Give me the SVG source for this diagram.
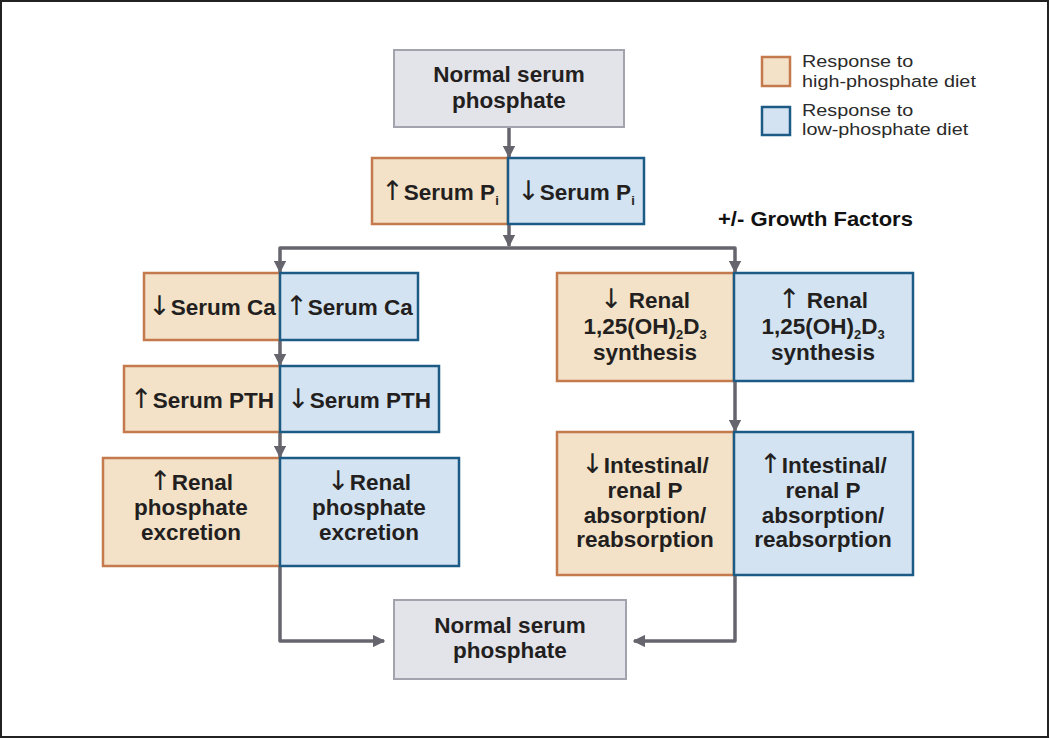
<svg xmlns="http://www.w3.org/2000/svg" width="1050" height="739" viewBox="0 0 1050 739">
<style>
.hi{fill:#f3e2c8;stroke:#c47a4c;stroke-width:2.5}
.lo{fill:#d4e3f2;stroke:#1c5b85;stroke-width:2.5}
.nm{fill:#e3e3ea;stroke:#a3a3ae;stroke-width:2}
.t{font-family:"Liberation Sans",Arial,sans-serif;font-weight:bold;font-size:22.5px;fill:#231f20;text-anchor:middle}
.ar{font-family:"DejaVu Sans","Liberation Sans",sans-serif;font-weight:normal;font-size:27px}
.sub{font-size:13px}
.leg{font-family:"Liberation Sans",Arial,sans-serif;font-size:16.5px;fill:#2a2a2a}
.gf{font-family:"Liberation Sans",Arial,sans-serif;font-size:20px;font-weight:bold;fill:#111}
.cn{fill:none;stroke:#66656e;stroke-width:3.5;stroke-linejoin:round}
</style>
<defs>
<marker id="ah" viewBox="0 0 10 10" refX="9" refY="5" markerWidth="3.6" markerHeight="3.6" orient="auto" markerUnits="strokeWidth">
<path d="M0,0 L10,5 L0,10 z" fill="#66656e"/>
</marker>
</defs>
<rect x="1" y="1" width="1047" height="736" fill="#fff" stroke="#222" stroke-width="2"/>

<g id="connectors">
<path class="cn" d="M509,127 V157" marker-end="url(#ah)"/>
<path class="cn" d="M509,224 V246" marker-end="url(#ah)"/>
<path class="cn" d="M509,248 H280 V272" marker-end="url(#ah)"/>
<path class="cn" d="M509,248 H735 V272" marker-end="url(#ah)"/>
<path class="cn" d="M280,340 V365" marker-end="url(#ah)"/>
<path class="cn" d="M280,432 V457" marker-end="url(#ah)"/>
<path class="cn" d="M280,566 V641 H384" marker-end="url(#ah)"/>
<path class="cn" d="M735,381 V431" marker-end="url(#ah)"/>
<path class="cn" d="M735,575 V641 H634" marker-end="url(#ah)"/>
</g>

<g id="normal-top">
<rect class="nm" x="394" y="50" width="230" height="77"/>
<text class="t" x="509" y="82">Normal serum</text>
<text class="t" x="509" y="108">phosphate</text>
</g>

<g id="serum-pi-high">
<rect class="hi" x="372" y="158" width="136" height="66"/>
<text class="t" x="440" y="200"><tspan class="ar">↑</tspan>Serum P<tspan class="sub" dy="5">i</tspan></text>
</g>
<g id="serum-pi-low">
<rect class="lo" x="508" y="158" width="136" height="66"/>
<text class="t" x="576" y="200"><tspan class="ar">↓</tspan>Serum P<tspan class="sub" dy="5">i</tspan></text>
</g>

<g id="serum-ca-high">
<rect class="hi" x="144" y="273" width="136" height="67"/>
<text class="t" x="212" y="315"><tspan class="ar">↓</tspan>Serum Ca</text>
</g>
<g id="serum-ca-low">
<rect class="lo" x="280" y="273" width="138" height="67"/>
<text class="t" x="349" y="315"><tspan class="ar">↑</tspan>Serum Ca</text>
</g>

<g id="pth-high">
<rect class="hi" x="124" y="366" width="156" height="66"/>
<text class="t" x="202" y="408"><tspan class="ar">↑</tspan>Serum PTH</text>
</g>
<g id="pth-low">
<rect class="lo" x="280" y="366" width="159" height="66"/>
<text class="t" x="359" y="408"><tspan class="ar">↓</tspan>Serum PTH</text>
</g>

<g id="excretion-high">
<rect class="hi" x="103" y="458" width="177" height="108"/>
<text class="t" x="191" y="490"><tspan class="ar">↑</tspan>Renal</text>
<text class="t" x="191" y="515">phosphate</text>
<text class="t" x="191" y="540">excretion</text>
</g>
<g id="excretion-low">
<rect class="lo" x="280" y="458" width="179" height="108"/>
<text class="t" x="369" y="490"><tspan class="ar">↓</tspan>Renal</text>
<text class="t" x="369" y="515">phosphate</text>
<text class="t" x="369" y="540">excretion</text>
</g>

<g id="synthesis-high">
<rect class="hi" x="557" y="273" width="177" height="108"/>
<text class="t" x="645" y="308"><tspan class="ar">↓</tspan> Renal</text>
<text class="t" x="645" y="334">1,25(OH)<tspan class="sub" dy="5">2</tspan><tspan dy="-5">D</tspan><tspan class="sub" dy="5">3</tspan></text>
<text class="t" x="645" y="360">synthesis</text>
</g>
<g id="synthesis-low">
<rect class="lo" x="734" y="273" width="179" height="108"/>
<text class="t" x="823" y="308"><tspan class="ar">↑</tspan> Renal</text>
<text class="t" x="823" y="334">1,25(OH)<tspan class="sub" dy="5">2</tspan><tspan dy="-5">D</tspan><tspan class="sub" dy="5">3</tspan></text>
<text class="t" x="823" y="360">synthesis</text>
</g>

<g id="absorption-high">
<rect class="hi" x="557" y="432" width="177" height="143"/>
<text class="t" x="645" y="473"><tspan class="ar">↓</tspan>Intestinal/</text>
<text class="t" x="645" y="498">renal P</text>
<text class="t" x="645" y="523">absorption/</text>
<text class="t" x="645" y="547">reabsorption</text>
</g>
<g id="absorption-low">
<rect class="lo" x="734" y="432" width="179" height="143"/>
<text class="t" x="823" y="473"><tspan class="ar">↑</tspan>Intestinal/</text>
<text class="t" x="823" y="498">renal P</text>
<text class="t" x="823" y="523">absorption/</text>
<text class="t" x="823" y="547">reabsorption</text>
</g>

<g id="normal-bottom">
<rect class="nm" x="394" y="600" width="232" height="79"/>
<text class="t" x="510" y="633">Normal serum</text>
<text class="t" x="510" y="658">phosphate</text>
</g>

<g id="growth-factors">
<text class="gf" transform="translate(718,226) scale(1.1,1)">+/- Growth Factors</text>
</g>

<g id="legend">
<rect class="hi" x="762" y="57" width="28" height="29"/>
<rect class="lo" x="762" y="107" width="28" height="28"/>
<text class="leg" transform="translate(802,67) scale(1.2,1)">Response to</text>
<text class="leg" transform="translate(802,87) scale(1.2,1)">high-phosphate diet</text>
<text class="leg" transform="translate(802,116) scale(1.2,1)">Response to</text>
<text class="leg" transform="translate(802,135) scale(1.2,1)">low-phosphate diet</text>
</g>
</svg>
